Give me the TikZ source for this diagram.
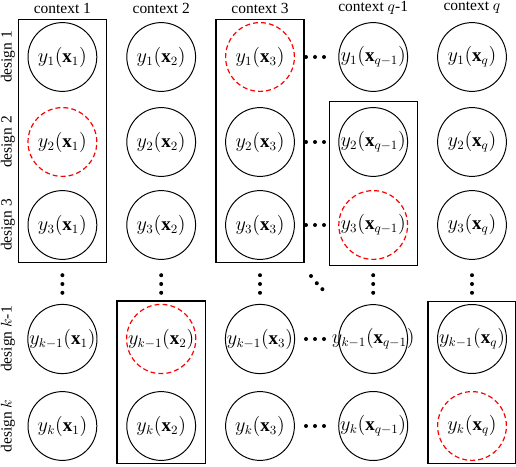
\documentclass[tikz,border=0pt]{standalone}
\usepackage{fontspec}
\setmainfont{Liberation Serif}
\usepackage{tikz}
\usetikzlibrary{fit, shapes}
\usepackage{amsmath}
\usepackage{amssymb}

\begin{document}
\begin{tikzpicture}[ele/.style={circle, draw, line width=0.7pt, minimum size=1.72cm, inner sep=0pt, font=\fontsize{13.5}{15}\selectfont},
  miss/.style={ele, draw=red, dash pattern=on 3.5pt off 2.2pt, line width=0.85pt},
  head/.style={font=\fontsize{11}{13}\selectfont},
  every fit/.style={rectangle, draw, line width=1.1pt, inner xsep=6.5pt, inner ysep=1.8pt}]
  \useasboundingbox (0,0) rectangle (12.9,11.65);

  \node[head] (ta) at (1.56,11.45) {context 1};
  \node[head] (tb) at (4.03,11.45) {context 2};
  \node[head] (tc) at (6.5,11.45) {context 3};
  \node[head] (td) at (9.33,11.45) {context $q$-1};
  \node[head] (te) at (11.8,11.45) {context $q$};

  \node[head, rotate=90] (r1) at (0.2,10.225) {design 1};
  \node[head, rotate=90] (r2) at (0.2,8.1) {design 2};
  \node[head, rotate=90] (r3) at (0.2,6.025) {design 3};
  \node[head, rotate=90] (r4) at (0.2,3.175) {design $k$-1};
  \node[head, rotate=90] (r5) at (0.2,1.0) {design $k$};

  \node[ele] (a1) at (1.56,10.225) {$y_1(\mathbf{x}_1)$};
  \node[miss] (a2) at (1.56,8.1) {$y_2(\mathbf{x}_1)$};
  \node[ele] (a3) at (1.56,6.025) {$y_3(\mathbf{x}_1)$};
  \node[ele] (a4) at (1.56,3.175) {$y_{k-1}(\mathbf{x}_1)$};
  \node[ele] (a5) at (1.56,1.0) {$y_k(\mathbf{x}_1)$};

  \node[ele] (b1) at (4.03,10.225) {$y_1(\mathbf{x}_2)$};
  \node[ele] (b2) at (4.03,8.1) {$y_2(\mathbf{x}_2)$};
  \node[ele] (b3) at (4.03,6.025) {$y_3(\mathbf{x}_2)$};
  \node[miss] (b4) at (4.03,3.175) {$y_{k-1}(\mathbf{x}_2)$};
  \node[ele] (b5) at (4.03,1.0) {$y_k(\mathbf{x}_2)$};

  \node[miss] (c1) at (6.5,10.225) {$y_1(\mathbf{x}_3)$};
  \node[ele] (c2) at (6.5,8.1) {$y_2(\mathbf{x}_3)$};
  \node[ele] (c3) at (6.5,6.025) {$y_3(\mathbf{x}_3)$};
  \node[ele] (c4) at (6.5,3.175) {$y_{k-1}(\mathbf{x}_3)$};
  \node[ele] (c5) at (6.5,1.0) {$y_k(\mathbf{x}_3)$};

  \node[ele] (d1) at (9.33,10.225) {$y_1(\mathbf{x}_{q-1})$};
  \node[ele] (d2) at (9.33,8.1) {$y_2(\mathbf{x}_{q-1})$};
  \node[miss] (d3) at (9.33,6.025) {$y_3(\mathbf{x}_{q-1})$};
  \node[ele] (d4) at (9.33,3.175) {\makebox[0pt]{$y_{k-1}(\mathbf{x}_{q-1})$}};
  \node[ele] (d5) at (9.33,1.0) {$y_k(\mathbf{x}_{q-1})$};

  \node[ele] (e1) at (11.8,10.225) {$y_1(\mathbf{x}_q)$};
  \node[ele] (e2) at (11.8,8.1) {$y_2(\mathbf{x}_q)$};
  \node[ele] (e3) at (11.8,6.025) {$y_3(\mathbf{x}_q)$};
  \node[ele] (e4) at (11.8,3.175) {$y_{k-1}(\mathbf{x}_q)$};
  \node[miss] (e5) at (11.8,1.0) {$y_k(\mathbf{x}_q)$};

  \node[fit = (a1) (a3)] (fa) {};
  \node[fit = (b4) (b5)] (fb) {};
  \node[fit = (c1) (c3)] (fc) {};
  \node[fit = (d2) (d3), line width=0.6pt, inner ysep=4pt] (fd) {};
  \node[fit = (e4) (e5)] (fe) {};

  % dots between the columns
  \fill (7.65,10.225) circle (0.05) (7.875,10.225) circle (0.05) (8.1,10.225) circle (0.05);
  \fill (7.65,8.1) circle (0.05) (7.875,8.1) circle (0.05) (8.1,8.1) circle (0.05);
  \fill (7.65,6.025) circle (0.05) (7.875,6.025) circle (0.05) (8.1,6.025) circle (0.05);
  \fill (7.65,3.175) circle (0.05) (7.875,3.175) circle (0.05) (8.1,3.175) circle (0.05);
  \fill (7.65,1.0) circle (0.05) (7.875,1.0) circle (0.05) (8.1,1.0) circle (0.05);

  % dots between the rows
  \fill (1.56,4.77) circle (0.05) (1.56,4.55) circle (0.05) (1.56,4.33) circle (0.05);
  \fill (4.03,4.77) circle (0.05) (4.03,4.55) circle (0.05) (4.03,4.33) circle (0.05);
  \fill (6.5,4.77) circle (0.05) (6.5,4.55) circle (0.05) (6.5,4.33) circle (0.05);
  \fill (9.33,4.77) circle (0.05) (9.33,4.55) circle (0.05) (9.33,4.33) circle (0.05);
  \fill (11.8,4.77) circle (0.05) (11.8,4.55) circle (0.05) (11.8,4.33) circle (0.05);
  \fill (7.775,4.75) circle (0.05) (7.92,4.57) circle (0.05) (8.06,4.42) circle (0.05);
\end{tikzpicture}
\end{document}
